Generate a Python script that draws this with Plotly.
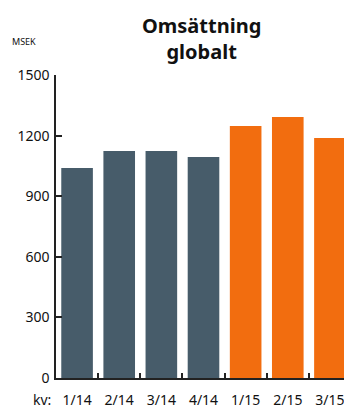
import plotly.graph_objects as go

categories = ["1/14", "2/14", "3/14", "4/14", "1/15", "2/15", "3/15"]
values = [1040, 1124, 1124, 1094, 1248, 1292, 1188]
years = ["2014", "2014", "2014", "2014", "2015", "2015", "2015"]
y_ticks = [0, 300, 600, 900, 1200, 1500]
title_lines = ["Omsättning", "globalt"]

color_map = {"2014": "#475c6a", "2015": "#f26d0f"}
colors = [color_map[y] for y in years]

FONT = "Noto Sans"
# page body has an 8px default margin; figure is sized to fill the rest
W, H = 344, 400
L, R, T, B = 48, 1, 67, 30
PW = W - L - R

fig = go.Figure(go.Bar(
    x=categories, y=values, marker_color=colors, marker_line_width=0,
    hoverinfo="x+y",
))

fig.update_layout(
    width=W, height=H,
    margin=dict(l=L, r=R, t=T, b=B, autoexpand=False),
    paper_bgcolor="white", plot_bgcolor="white",
    bargap=0.25,
    showlegend=False,
    font=dict(family=FONT, size=14, color="#111"),
)
fig.update_xaxes(
    type="category", showline=True, linecolor="#222", linewidth=1.5,
    ticks="inside", tickson="boundaries", ticklen=5, tickcolor="#222", tickwidth=1.5,
    showgrid=False, tickfont=dict(size=14), automargin=False, ticklabelstandoff=8,
)
fig.update_yaxes(
    range=[0, 1500], tickvals=y_ticks, showline=True, linecolor="#222", linewidth=1.5,
    ticks="inside", ticklen=6, tickcolor="#222", tickwidth=1.5,
    showgrid=False, zeroline=False, tickfont=dict(size=14), automargin=False,
    ticklabelstandoff=2,
)
fig.add_annotation(text="<b>" + "<br>".join(title_lines) + "</b>", xref="paper",
                   yref="paper", x=(193 - L) / PW, y=1, yshift=65, xanchor="center",
                   yanchor="top", showarrow=False, font=dict(size=20, color="#111"))
fig.add_annotation(text="kv:", xref="paper", yref="paper", x=-0.01, y=0,
                   xanchor="right", yanchor="top", yshift=-10, showarrow=False,
                   font=dict(size=14))
fig.add_annotation(text="MSEK", xref="paper", yref="paper", x=(2 - L) / PW, y=1,
                   yshift=34, xanchor="left", yanchor="middle", showarrow=False,
                   font=dict(size=9))

fig.write_html("out.html")
